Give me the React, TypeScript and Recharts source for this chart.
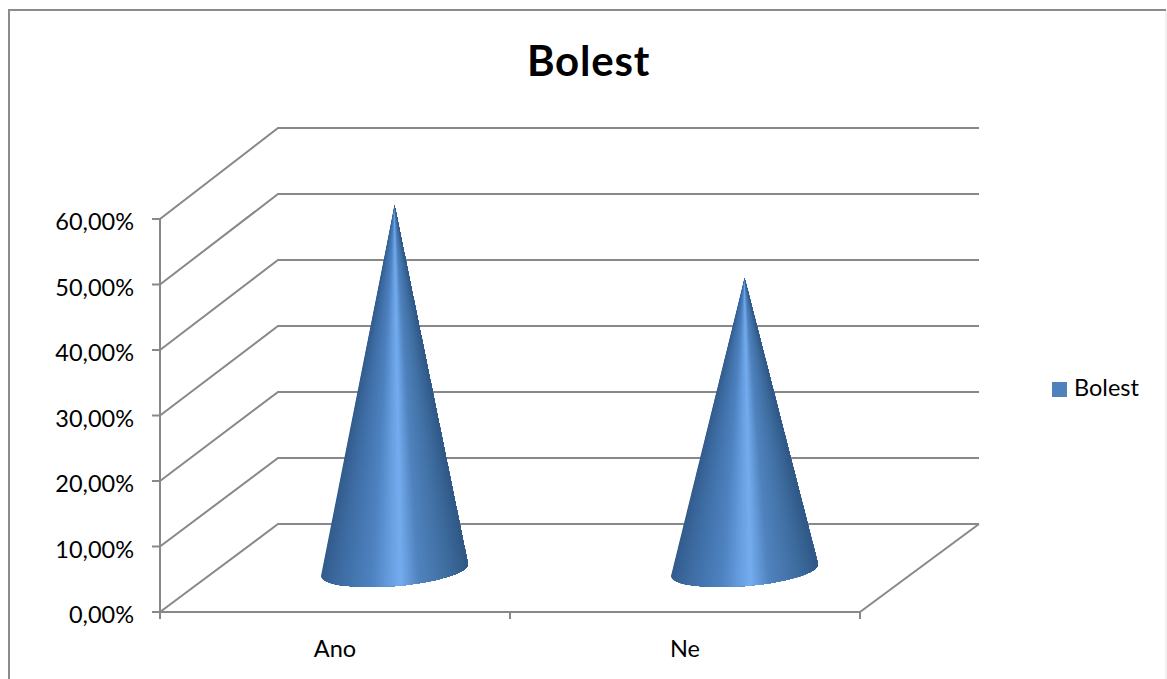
import React from "react";
import { BarChart, Bar, XAxis, YAxis, CartesianGrid, Legend } from "recharts";

const categories = ["Ano", "Ne"];
const seriesName = "Bolest";
const painValues = [55.56, 44.44];
const valueTicks = [0, 10, 20, 30, 40, 50, 60];
const bandEdges = [0, 1, 2];

const rows = categories.map((name, i) => ({ name, value: painValues[i] }));

const WIDTH = 1167;
const HEIGHT = 679;
const LINE = "#888888";
const FONT = "Lato, 'Open Sans', sans-serif";
const TEXT_SIZE = 23.5;
// Projection of the chart's depth: the back wall sits up and to the right of the front plane.
const DEPTH_X = 118;
const DEPTH_Y = 88;
const WALL_SCALE = 66 / 65.5;
const PLOT_LEFT = 160;
const PLOT_RIGHT = 860;
const PLOT_BOTTOM = 612;
const LEGEND_WIDTH = 110;
const LABEL_AXIS = "b-labels";
const EDGE_AXIS = "a-edges";
const BAND_WIDTH = (PLOT_RIGHT - PLOT_LEFT) / categories.length;

// Surface shading of a cone, left to right across its base: [position, r, g, b].
const coneShade = [
  [0, 50, 90, 138],
  [0.12, 60, 106, 160],
  [0.35, 78, 130, 192],
  [0.48, 104, 160, 226],
  [0.54, 116, 172, 239],
  [0.66, 80, 131, 190],
  [0.88, 60, 106, 156],
  [1, 48, 88, 134],
];

const formatPercent = (v: number) => `${v.toFixed(2).replace(".", ",")}%`;

function shadeAt(t: number) {
  for (let i = 1; i < coneShade.length; i++) {
    const [p1, r1, g1, b1] = coneShade[i];
    const [p0, r0, g0, b0] = coneShade[i - 1];
    if (t <= p1) {
      const k = (t - p0) / (p1 - p0);
      const mix = (a: number, b: number) => Math.round(a + (b - a) * k);
      return `rgb(${mix(r0, r1)},${mix(g0, g1)},${mix(b0, b1)})`;
    }
  }
  return "rgb(48,88,134)";
}

// A cone is a clipped stack of wedges fanning out from its tip; each wedge paints over
// everything to its right, so the shading follows the surface without seams.
function Cone(props: any) {
  const { x, y, width, height, index } = props;
  const cx = x + width / 2 + DEPTH_X / 2;
  const apexY = y - 43;
  const baseY = y + height - 42;
  const rx = width / 2;
  const tilt = 6;
  const steps = 74;
  const clipId = `cone-clip-${index}`;
  const reach = baseY + 40;
  const wedges = Array.from({ length: steps }, (_, i) => {
    const t = i / steps;
    const spread = ((reach - apexY) / (baseY - apexY)) * rx * (2 * t - 1);
    return {
      color: shadeAt(t + 0.5 / steps),
      d: `M${cx},${apexY} L${cx + spread},${reach} L${cx + rx * 2},${reach} L${cx + rx * 2},${apexY} Z`,
    };
  });
  return (
    <g>
      <clipPath id={clipId}>
        <path d={`M${cx},${apexY} L${cx + rx},${baseY - tilt} A${rx},16 -4.7 1 1 ${cx - rx},${baseY + tilt} Z`} />
      </clipPath>
      <g clipPath={`url(#${clipId})`}>
        {wedges.map((w, i) => (
          <path key={i} d={w.d} fill={w.color} />
        ))}
      </g>
    </g>
  );
}

function WallLine(props: any) {
  const { x1, x2, y1 } = props;
  const backY = PLOT_BOTTOM - DEPTH_Y - (PLOT_BOTTOM - y1) * WALL_SCALE;
  return (
    <path
      d={`M${x1},${y1} L${x1 + DEPTH_X},${backY} L${x2 + DEPTH_X + 1},${backY}`}
      fill="none"
      stroke={LINE}
      strokeWidth={2}
    />
  );
}

// Category label, plus the tick mark on the boundary to its right.
function CategoryTick(props: any) {
  const { x, payload } = props;
  const edge = x + BAND_WIDTH / 2;
  return (
    <g>
      <text x={x} y={PLOT_BOTTOM + 45} textAnchor="middle" fontFamily={FONT} fontSize={TEXT_SIZE} fill="#000">
        {payload.value}
      </text>
      <path d={`M${edge},${PLOT_BOTTOM} L${edge},${PLOT_BOTTOM + 7}`} stroke={LINE} strokeWidth={2} />
    </g>
  );
}

export default function App() {
  return (
    <div style={{ position: "absolute", left: 0, top: 0, width: WIDTH, height: HEIGHT, overflow: "hidden", background: "#fff" }}>
      <BarChart
        width={WIDTH}
        height={HEIGHT}
        data={rows}
        barSize={147}
        margin={{ top: 219, right: WIDTH - PLOT_RIGHT - LEGEND_WIDTH, bottom: 0, left: 60 }}
      >
        <path d="M9,679 L9,10 L1166,10" fill="none" stroke="#8c8c8c" strokeWidth={2} />
        <path d="M1166,11 L1166,679" fill="none" stroke="#e2e2e2" strokeWidth={1} />
        <text x={588.5} y={75.5} textAnchor="middle" fontFamily={FONT} fontWeight={700} fontSize={42} letterSpacing={0.8} fill="#000">
          {seriesName}
        </text>
        <CartesianGrid xAxisId={LABEL_AXIS} vertical={false} horizontal={WallLine as any} />
        <path d="M860,612 L979,524" fill="none" stroke={LINE} strokeWidth={2} />
        <XAxis
          xAxisId={EDGE_AXIS}
          type="number"
          domain={[0, 2]}
          ticks={bandEdges}
          interval={0}
          tick={() => <g />}
          height={1}
          stroke={LINE}
          strokeWidth={2}
          tickSize={7}
        />
        <XAxis
          xAxisId={LABEL_AXIS}
          dataKey="name"
          height={66}
          axisLine={false}
          tickLine={false}
          interval={0}
          tick={CategoryTick as any}
        />
        <YAxis
          width={100}
          domain={[0, 60]}
          ticks={valueTicks}
          tickFormatter={formatPercent}
          stroke={LINE}
          strokeWidth={2}
          tickSize={8}
          tickMargin={18}
          dy={3}
          tick={{ fontFamily: FONT, fontSize: TEXT_SIZE, fill: "#000" }}
        />
        <Legend
          layout="vertical"
          align="right"
          verticalAlign="middle"
          iconType="square"
          iconSize={15}
          formatter={(v: string) => (
            <span style={{ color: "#000", fontFamily: FONT, fontSize: TEXT_SIZE, position: "relative", top: 3, marginLeft: 3 }}>{v}</span>
          )}
          wrapperStyle={{ position: "absolute", left: 1052, top: 370, width: LEGEND_WIDTH }}
        />
        <Bar xAxisId={LABEL_AXIS} name={seriesName} dataKey="value" fill="#4f81bd" shape={Cone as any} isAnimationActive={false} />
      </BarChart>
    </div>
  );
}
